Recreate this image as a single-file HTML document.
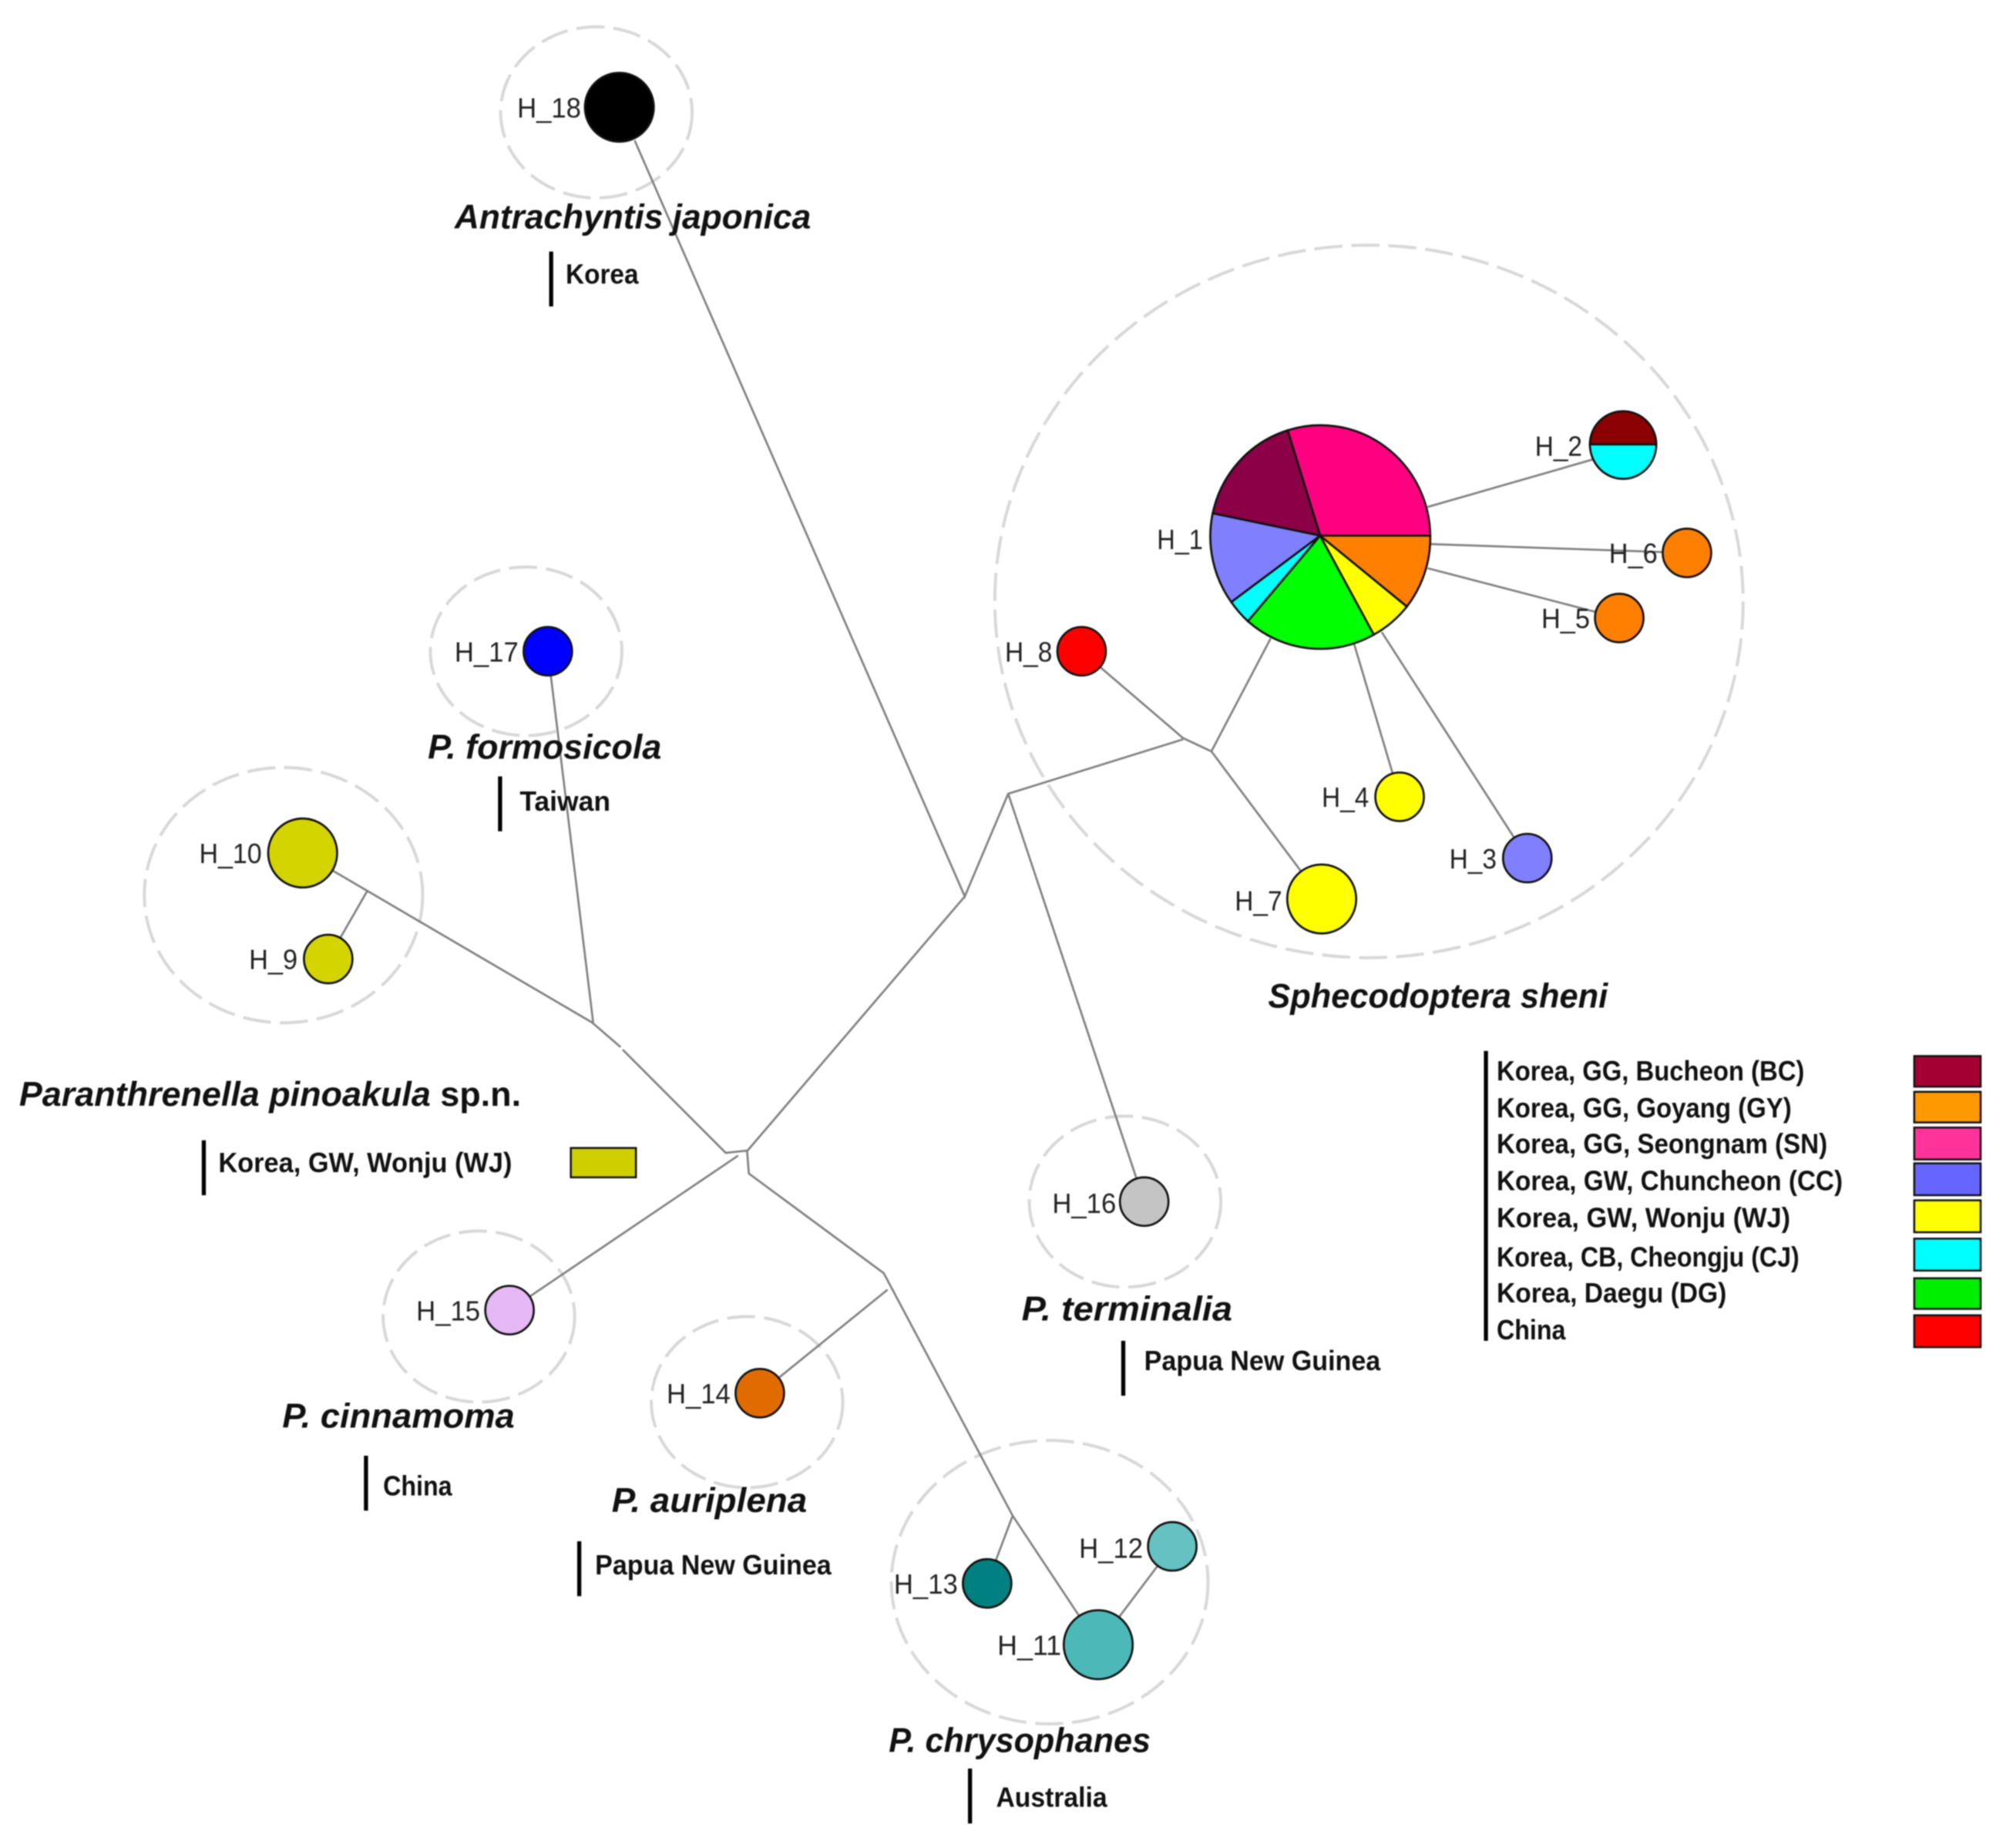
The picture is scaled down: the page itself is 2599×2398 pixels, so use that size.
<!DOCTYPE html>
<html><head><meta charset="utf-8"><style>
html,body{margin:0;padding:0;background:#fff}
svg{display:block;filter:blur(0.7px)}
.t{font-family:"Liberation Sans",sans-serif;font-weight:bold;font-style:italic;font-size:27px;fill:#111}
.s{font-family:"Liberation Sans",sans-serif;font-size:22px;font-weight:bold;fill:#111}
.h{font-family:"Liberation Sans",sans-serif;font-size:22px;fill:#222}
.d{fill:none;stroke:#d8d8d8;stroke-width:2.4;stroke-dasharray:22 7}
.l{fill:none;stroke:#808080;stroke-width:1.6}
.n{stroke:#111;stroke-width:1.6}
.b{fill:#000}
.k{stroke:#111;stroke-width:1.5}
</style></head><body>
<svg width="2599" height="2398" viewBox="0 0 1568.5 1447.2" xmlns="http://www.w3.org/2000/svg">
<rect width="1568.5" height="1447.2" fill="#fff"/>
<g class="d">
<ellipse cx="467" cy="88" rx="75" ry="67"/>
<ellipse cx="1072" cy="471" rx="293" ry="279"/>
<ellipse cx="412" cy="510" rx="75" ry="66"/>
<ellipse cx="222" cy="701" rx="109" ry="100"/>
<ellipse cx="881" cy="941" rx="75" ry="67"/>
<ellipse cx="375" cy="1031" rx="75" ry="67"/>
<ellipse cx="585" cy="1098" rx="75" ry="67"/>
<ellipse cx="822" cy="1239" rx="124" ry="111"/>
</g>
<g class="l">
<polyline points="497,110 755.5,702 789.5,621.6 926.4,579"/>
<polyline points="847,510 926.4,578 948.6,588.4 995,500"/>
<polyline points="948.6,588.4 1035,704"/>
<polyline points="789.5,621.6 896,941"/>
<polyline points="755.5,702 585.4,901 568.3,902.8 487.6,822"/>
<polyline points="486,820 463.6,800.7 237,668"/>
<polyline points="429,510 464.5,800.7"/>
<polyline points="257,751 288,697"/>
<polyline points="399,1026 578,905"/>
<polyline points="585,901 586.4,919 692,997 793,1187 860,1288"/>
<polyline points="695,1010 595,1091"/>
<polyline points="793,1187 773,1240"/>
<polyline points="860,1288 918,1211"/>
<polyline points="1118,397 1271,353"/>
<polyline points="1118,426 1321,433"/>
<polyline points="1118,445 1268,484"/>
<polyline points="1060,503 1096,624"/>
<polyline points="1082,495 1196,672"/>
</g>
<g class="n">
<path d="M1033.8 419.5L1120 419.5A86 87.5 0 0 0 1008.3 337Z" fill="#ff0080"/>
<path d="M1033.8 419.5L1008.3 337A86 87.5 0 0 0 949.6 402Z" fill="#8b0046"/>
<path d="M1033.8 419.5L949.6 402A86 87.5 0 0 0 964.2 471.5Z" fill="#8080ff"/>
<path d="M1033.8 419.5L964.2 471.5A86 87.5 0 0 0 977.2 486.5Z" fill="#00ffff"/>
<path d="M1033.8 419.5L977.2 486.5A86 87.5 0 0 0 1075.8 497Z" fill="#00ff00"/>
<path d="M1033.8 419.5L1075.8 497A86 87.5 0 0 0 1101.7 475Z" fill="#ffff00"/>
<path d="M1033.8 419.5L1101.7 475A86 87.5 0 0 0 1120 419.5Z" fill="#ff8000"/>
<path d="M1245 348A26 26 0 0 1 1297 348Z" fill="#8b0000"/>
<path d="M1245 348A26 27 0 0 0 1297 348Z" fill="#00ffff"/>
<circle cx="1321" cy="433" r="19" fill="#ff8000"/>
<circle cx="1268" cy="484" r="19" fill="#ff8000"/>
<circle cx="847" cy="510" r="19" fill="#ff0000"/>
<circle cx="1096" cy="624" r="19" fill="#ffff00"/>
<circle cx="1196" cy="672" r="19" fill="#8080ff"/>
<circle cx="1035" cy="704" r="27" fill="#ffff00"/>
<circle cx="485" cy="84" r="27" fill="#000"/>
<circle cx="429" cy="510" r="19" fill="#0000ff"/>
<circle cx="237" cy="668" r="27" fill="#d4d400"/>
<circle cx="257" cy="751" r="19" fill="#d4d400"/>
<circle cx="896" cy="941" r="19" fill="#c4c4c4"/>
<circle cx="399" cy="1026" r="19" fill="#e6b8f5"/>
<circle cx="595" cy="1091" r="19" fill="#e06c00"/>
<circle cx="918" cy="1211" r="19" fill="#66c2c2"/>
<circle cx="773" cy="1240" r="19" fill="#008080"/>
<circle cx="860" cy="1288" r="27" fill="#4db8b8"/>
</g>
<g class="h">
<text x="405" y="92" textLength="50" lengthAdjust="spacingAndGlyphs">H_18</text>
<text x="906" y="430" textLength="36" lengthAdjust="spacingAndGlyphs">H_1</text>
<text x="1202" y="357" textLength="37" lengthAdjust="spacingAndGlyphs">H_2</text>
<text x="1260" y="441" textLength="38" lengthAdjust="spacingAndGlyphs">H_6</text>
<text x="1207" y="492" textLength="38" lengthAdjust="spacingAndGlyphs">H_5</text>
<text x="787" y="518" textLength="37" lengthAdjust="spacingAndGlyphs">H_8</text>
<text x="1035" y="632" textLength="37" lengthAdjust="spacingAndGlyphs">H_4</text>
<text x="1135" y="680" textLength="37" lengthAdjust="spacingAndGlyphs">H_3</text>
<text x="967" y="713" textLength="37" lengthAdjust="spacingAndGlyphs">H_7</text>
<text x="356" y="518" textLength="50" lengthAdjust="spacingAndGlyphs">H_17</text>
<text x="156" y="676" textLength="49" lengthAdjust="spacingAndGlyphs">H_10</text>
<text x="195" y="759" textLength="38" lengthAdjust="spacingAndGlyphs">H_9</text>
<text x="824" y="950" textLength="50" lengthAdjust="spacingAndGlyphs">H_16</text>
<text x="326" y="1034" textLength="50" lengthAdjust="spacingAndGlyphs">H_15</text>
<text x="522" y="1099" textLength="50" lengthAdjust="spacingAndGlyphs">H_14</text>
<text x="845" y="1220" textLength="50" lengthAdjust="spacingAndGlyphs">H_12</text>
<text x="700" y="1248" textLength="50" lengthAdjust="spacingAndGlyphs">H_13</text>
<text x="781" y="1296" textLength="50" lengthAdjust="spacingAndGlyphs">H_11</text>
</g>
<g class="t">
<text x="356" y="179" textLength="279" lengthAdjust="spacingAndGlyphs">Antrachyntis japonica</text>
<text x="335" y="594" textLength="183" lengthAdjust="spacingAndGlyphs">P. formosicola</text>
<text x="15" y="866" textLength="393" lengthAdjust="spacingAndGlyphs">Paranthrenella pinoakula <tspan font-style="normal">sp.n.</tspan></text>
<text x="993" y="789" textLength="266" lengthAdjust="spacingAndGlyphs">Sphecodoptera sheni</text>
<text x="800" y="1034" textLength="165" lengthAdjust="spacingAndGlyphs">P. terminalia</text>
<text x="221" y="1118" textLength="182" lengthAdjust="spacingAndGlyphs">P. cinnamoma</text>
<text x="479" y="1184" textLength="153" lengthAdjust="spacingAndGlyphs">P. auriplena</text>
<text x="696" y="1372" textLength="205" lengthAdjust="spacingAndGlyphs">P. chrysophanes</text>
</g>
<g class="s">
<text x="443" y="222" textLength="57" lengthAdjust="spacingAndGlyphs">Korea</text>
<text x="407" y="635" textLength="71" lengthAdjust="spacingAndGlyphs">Taiwan</text>
<text x="171" y="918" textLength="230" lengthAdjust="spacingAndGlyphs">Korea, GW, Wonju (WJ)</text>
<text x="896" y="1073" textLength="185" lengthAdjust="spacingAndGlyphs">Papua New Guinea</text>
<text x="300" y="1171" textLength="54" lengthAdjust="spacingAndGlyphs">China</text>
<text x="466" y="1233" textLength="185" lengthAdjust="spacingAndGlyphs">Papua New Guinea</text>
<text x="780" y="1415" textLength="87" lengthAdjust="spacingAndGlyphs">Australia</text>
<text x="1172" y="846" textLength="241" lengthAdjust="spacingAndGlyphs">Korea, GG, Bucheon (BC)</text>
<text x="1172" y="875" textLength="231" lengthAdjust="spacingAndGlyphs">Korea, GG, Goyang (GY)</text>
<text x="1172" y="903" textLength="259" lengthAdjust="spacingAndGlyphs">Korea, GG, Seongnam (SN)</text>
<text x="1172" y="932" textLength="271" lengthAdjust="spacingAndGlyphs">Korea, GW, Chuncheon (CC)</text>
<text x="1172" y="961" textLength="230" lengthAdjust="spacingAndGlyphs">Korea, GW, Wonju (WJ)</text>
<text x="1172" y="992" textLength="237" lengthAdjust="spacingAndGlyphs">Korea, CB, Cheongju (CJ)</text>
<text x="1172" y="1020" textLength="180" lengthAdjust="spacingAndGlyphs">Korea, Daegu (DG)</text>
<text x="1172" y="1049" textLength="54" lengthAdjust="spacingAndGlyphs">China</text>
</g>
<g class="b">
<rect x="430" y="197" width="3.2" height="43"/>
<rect x="390" y="608" width="3.2" height="43"/>
<rect x="158" y="893" width="3.2" height="43"/>
<rect x="878" y="1050" width="3.2" height="43"/>
<rect x="285" y="1140" width="3.2" height="43"/>
<rect x="452" y="1207" width="3.2" height="43"/>
<rect x="758" y="1385" width="3.2" height="43"/>
<rect x="1162" y="823" width="3.2" height="227"/>
</g>
<g class="k">
<rect x="447" y="899" width="51" height="23" fill="#cfcf00"/>
<rect x="1499" y="827" width="52" height="24" fill="#a50034"/>
<rect x="1499" y="855" width="52" height="24" fill="#ff9900"/>
<rect x="1499" y="883" width="52" height="25" fill="#ff3399"/>
<rect x="1499" y="911" width="52" height="25" fill="#6666ff"/>
<rect x="1499" y="940" width="52" height="25" fill="#ffff00"/>
<rect x="1499" y="970" width="52" height="25" fill="#00ffff"/>
<rect x="1499" y="1001" width="52" height="24" fill="#00ee00"/>
<rect x="1499" y="1030" width="52" height="25" fill="#ff0000"/>
</g>
</svg>
</body></html>
